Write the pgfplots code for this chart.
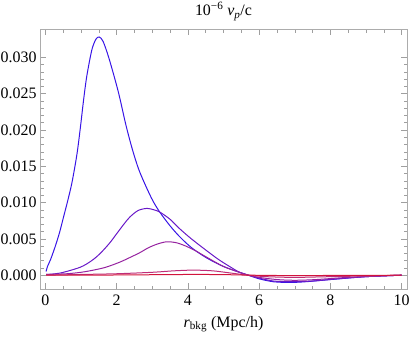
\documentclass[border=0pt]{standalone}
\usepackage{pgfplots}
\pgfplotsset{compat=1.18}
\usepackage{fontspec}
\setmainfont{Liberation Serif}

\definecolor{c1}{RGB}{55,20,230}
\definecolor{c2}{RGB}{105,25,200}
\definecolor{c3}{RGB}{150,35,160}
\definecolor{c4}{RGB}{190,45,120}
\definecolor{c5}{RGB}{210,20,60}

\begin{document}
\begin{tikzpicture}
\begin{axis}[
    scale only axis,
    width=367bp, height=260bp,
    xmin=-0.15, xmax=10.15,
    ymin=-0.0019, ymax=0.0339,
    xtick={0,2,4,6,8,10},
    ytick={0,0.005,0.010,0.015,0.020,0.025,0.030},
    minor x tick num=3,
    minor y tick num=4,
    scaled y ticks=false,
    tick align=inside,
    major tick length=6bp,
    minor tick length=3.5bp,
    every tick/.style={gray!75},
    axis line style={gray!65},
    yticklabel style={/pgf/number format/.cd, fixed, fixed zerofill, precision=3},
    xticklabel style={yshift=-2bp},
    /pgf/number format/assume math mode=true,
    tick label style={font=\fontsize{16}{18}\selectfont},
    label style={font=\fontsize{16}{18}\selectfont},
    title style={font=\fontsize{16}{18}\selectfont, yshift=-1bp},
    title={10\textsuperscript{−6} \textit{v}\textsubscript{\textit{p}}/c},
    xlabel={\textit{r}\textsubscript{bkg} (Mpc/h)},
    xlabel style={yshift=-4bp},
    every axis plot/.append style={line width=1bp, smooth},
]
% blue
\addplot[c1] coordinates {
 (0.02,0.0005) (0.06,0.0012) (0.15,0.0022) (0.28,0.0040) (0.40,0.0059)
 (0.51,0.0080) (0.62,0.0101) (0.745,0.0127) (0.885,0.0166) (0.98,0.0202)
 (1.07,0.0240) (1.15,0.0270) (1.24,0.0295) (1.32,0.0313) (1.42,0.0325)
 (1.51,0.0328) (1.62,0.0322) (1.79,0.0298) (2.05,0.0252) (2.26,0.0207)
 (2.45,0.0172) (2.65,0.0142) (2.98,0.0106) (3.21,0.0087) (3.50,0.0068)
 (3.77,0.0053) (4.10,0.0038) (4.52,0.0024) (5.00,0.0012) (5.45,0.0004)
 (5.70,0.0000) (6.00,-0.0005) (6.40,-0.0009) (6.85,-0.0010) (7.30,-0.0009)
 (8.00,-0.0006) (9.00,-0.0002) (10.0,0.0000)
};
% violet
\addplot[c2] coordinates {
 (0.02,0.0001) (0.42,0.0003) (0.98,0.0011) (1.30,0.0020) (1.54,0.0030)
 (1.80,0.0044) (2.00,0.0057) (2.20,0.0070) (2.37,0.0080) (2.60,0.0089)
 (2.85,0.0092) (3.05,0.0090) (3.21,0.0087) (3.50,0.0077) (3.77,0.0064)
 (4.10,0.0050) (4.52,0.0034) (4.85,0.0022) (5.17,0.0012) (5.45,0.0004)
 (5.70,0.0000) (6.00,-0.0004) (6.40,-0.0008) (6.90,-0.0009) (7.50,-0.0008)
 (8.20,-0.0005) (9.00,-0.0002) (10.0,0.0000)
};
% purple
\addplot[c3] coordinates {
 (0.02,0.0001) (0.60,0.0002) (1.00,0.0004) (1.35,0.0007) (1.70,0.0011)
 (2.09,0.0018) (2.40,0.0025) (2.65,0.0031) (2.90,0.0038) (3.15,0.0043)
 (3.40,0.0046) (3.65,0.0045) (3.90,0.0041) (4.20,0.0034) (4.52,0.0025)
 (5.00,0.0012) (5.45,0.0004) (5.70,0.0000) (6.00,-0.0003) (6.50,-0.0006)
 (7.00,-0.0007) (7.60,-0.0006) (8.50,-0.0003) (10.0,0.0000)
};
% magenta
\addplot[c4] coordinates {
 (0.02,0.0000) (1.00,0.0001) (2.00,0.0002) (3.00,0.0004) (3.60,0.0006)
 (4.15,0.0007) (4.70,0.0006) (5.20,0.0003) (5.70,0.0000) (6.20,-0.0002)
 (7.00,-0.0003) (8.00,-0.0002) (10.0,0.0000)
};
% red
\addplot[c5] coordinates {
 (0.02,0.0000) (2.00,0.00003) (4.00,0.0001) (5.00,0.00008) (5.80,0.0000)
 (7.00,-0.00005) (10.0,0.0000)
};
\end{axis}
\pgfresetboundingbox
\path[use as bounding box] ([xshift=-40bp,yshift=-48bp]current axis.south west)
    rectangle ([xshift=6bp,yshift=29bp]current axis.north east);
\end{tikzpicture}
\end{document}
